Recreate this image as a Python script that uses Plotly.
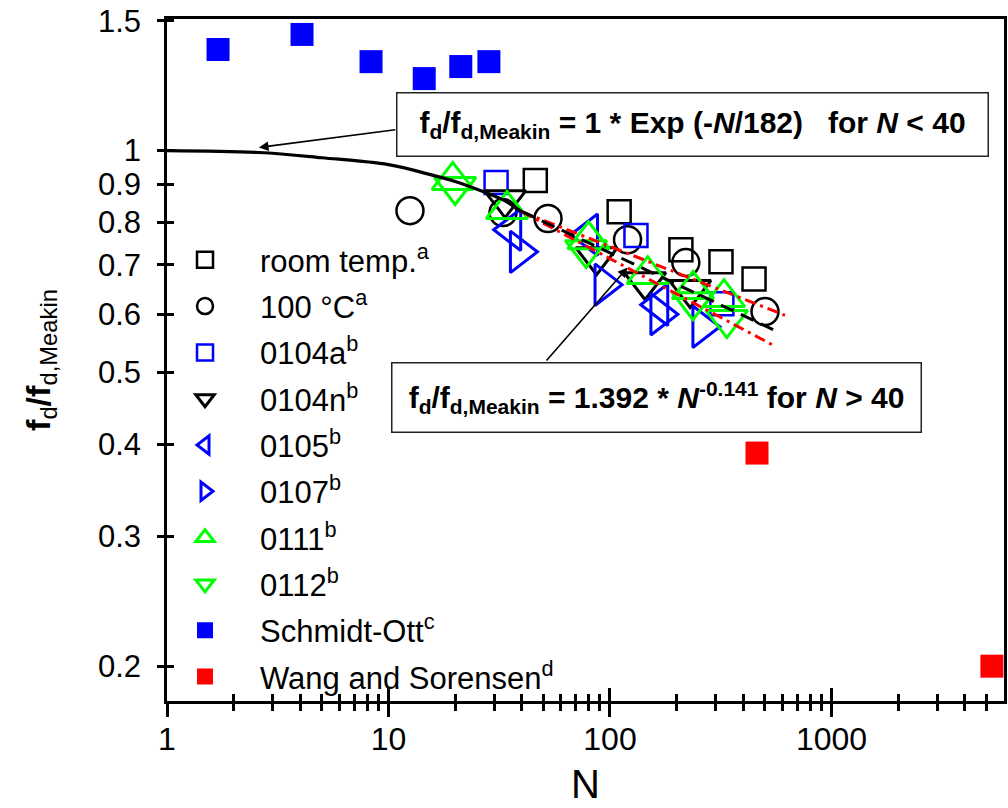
import numpy as np
import plotly.graph_objects as go

# ---------------- data ----------------
room_N = [46, 110, 209, 317, 447]
room_v = [0.911, 0.826, 0.734, 0.707, 0.670]

c100_N = [12.5, 32.9, 52.5, 120, 220, 501]
c100_v = [0.829, 0.824, 0.809, 0.757, 0.705, 0.605]

a0104_N = [30.6, 131, 320]
a0104_v = [0.905, 0.767, 0.620]

n0104_N = [33.6, 87, 144, 230]
n0104_v = [0.858, 0.718, 0.664, 0.648]

s0105_N = [36, 80, 166]
s0105_v = [0.781, 0.769, 0.618]

s0107_N = [39, 94, 168, 260]
s0107_v = [0.729, 0.658, 0.600, 0.577]

s0111_N = [19.5, 34.3, 80, 148, 237, 327]
s0111_v = [0.911, 0.832, 0.757, 0.679, 0.648, 0.632]

s0112_N = [20, 78, 237, 337]
s0112_v = [0.894, 0.734, 0.624, 0.590]

schmidt_N = [1.70, 4.07, 8.34, 14.5, 21.2, 28.4]
schmidt_v = [1.371, 1.437, 1.32, 1.252, 1.30, 1.32]

wang_N = [461, 5300]
wang_v = [0.389, 0.200]

# fitted curves
fitexp_N = [1, 2.6, 5, 10, 15, 20, 26.7, 32.8, 40]
fitexp_v = [1.0, 0.994, 0.978, 0.957, 0.93, 0.908, 0.880, 0.858, 0.826]
fitpow_N = [40, 545]
fitpow_v = [0.827, 0.572]
ci_hi_N = [40, 617]
ci_hi_v = [0.826, 0.598]
ci_lo_N = [40, 556]
ci_lo_v = [0.826, 0.543]

# axes
x_tickvals = [1, 10, 100, 1000]
x_ticktext = ["1", "10", "100", "1000"]
x_minor = [2, 3, 4, 5, 6, 7, 8, 9, 20, 30, 40, 50, 60, 70, 80, 90,
           200, 300, 400, 500, 600, 700, 800, 900, 2000, 3000, 4000, 5000]
y_tickvals = [0.2, 0.3, 0.4, 0.5, 0.6, 0.7, 0.8, 0.9, 1, 1.5]
y_ticktext = ["0.2", "0.3", "0.4", "0.5", "0.6", "0.7", "0.8", "0.9", "1", "1.5"]
x_range = [0, np.log10(6010)]
y_range = [np.log10(0.1794), np.log10(1.508)]
x_title = "N"
y_title = "<b>f</b><sub>d</sub><b>/f</b><sub>d,Meakin</sub>"

# annotation text / arrows
box1_text = ("<b>f<sub>d</sub>/f<sub>d,Meakin</sub> = 1 * Exp (-<i>N</i>/182)"
             "\u00a0\u00a0\u00a0for <i>N</i> &lt; 40</b>")
box2_text = ("<b>f<sub>d</sub>/f<sub>d,Meakin</sub> = 1.392 * <i>N</i>"
             "<sup>-0.141</sup> for <i>N</i> &gt; 40</b>")
arrow1_tip = (2.6, 1.01)
arrow1_tail = (10.9, 1.068)
arrow2_tip = (120, 0.694)
arrow2_tail = (51, 0.517)

FONT = "Liberation Sans, Arial, sans-serif"
BLUE = "#0000FF"
GREEN = "#00FF00"
RED = "#FF0000"

fig = go.Figure()

def add_pts(name, xs, ys, symbol, color, size, lw=2.5, filled=False,
            xaxis="x", yaxis="y"):
    marker = dict(symbol=symbol, size=size, color=color,
                  line=dict(color=color, width=(0 if filled else lw)))
    fig.add_trace(go.Scatter(x=xs, y=ys, mode="markers", name=name,
                             legendgroup=name, marker=marker,
                             xaxis=xaxis, yaxis=yaxis, hoverinfo="x+y"))

add_pts("room temp.<sup>a</sup>", room_N, room_v, "square-open", "black", 23)
add_pts("100 \u00b0C<sup>a</sup>", c100_N, c100_v, "circle-open", "black", 27)
add_pts("0104a<sup>b</sup>", a0104_N, a0104_v, "square-open", BLUE, 23)
add_pts("0104n<sup>b</sup>", n0104_N, n0104_v, "triangle-down-open", "black", 36, 3)
add_pts("0105<sup>b</sup>", s0105_N, s0105_v, "triangle-left-open", BLUE, 36, 3)
add_pts("0107<sup>b</sup>", s0107_N, s0107_v, "triangle-right-open", BLUE, 36, 3)
add_pts("0111<sup>b</sup>", s0111_N, s0111_v, "triangle-up-open", GREEN, 36, 3)
add_pts("0112<sup>b</sup>", s0112_N, s0112_v, "triangle-down-open", GREEN, 36, 3)
add_pts("Schmidt-Ott<sup>c</sup>", schmidt_N, schmidt_v, "square", BLUE, 23, filled=True)
add_pts("Wang and Sorensen<sup>d</sup>", wang_N, wang_v, "square", RED, 23,
        filled=True, xaxis="x2", yaxis="y2")

# fit lines on top of markers
fig.add_trace(go.Scatter(x=ci_hi_N, y=ci_hi_v, mode="lines", showlegend=False,
                         line=dict(color=RED, width=3, dash="11px,5px,3px,5px")))
fig.add_trace(go.Scatter(x=ci_lo_N, y=ci_lo_v, mode="lines", showlegend=False,
                         line=dict(color=RED, width=3, dash="11px,5px,3px,5px")))
fig.add_trace(go.Scatter(x=fitpow_N, y=fitpow_v, mode="lines", showlegend=False,
                         line=dict(color="black", width=3, dash="14px,8px")))
fig.add_trace(go.Scatter(x=fitexp_N, y=fitexp_v, mode="lines", showlegend=False,
                         line=dict(color="black", width=3.2, shape="spline")))

axis_common = dict(type="log", showgrid=False, zeroline=False,
                   tickcolor="black", tickwidth=2.5)

fig.update_layout(
    width=1008, height=808,
    margin=dict(l=167, r=4, t=19, b=107, autoexpand=False),
    paper_bgcolor="white", plot_bgcolor="white",
    font=dict(family=FONT, color="black", size=31),
    xaxis=dict(**axis_common, range=x_range, showline=True, linewidth=2.5,
               linecolor="black", mirror=True, ticks="outside", ticklen=13,
               tickmode="array", tickvals=x_tickvals, ticktext=x_ticktext,
               tickfont=dict(size=32, family=FONT), ticklabelstandoff=-5,
               minor=dict(ticks="outside", ticklen=7, tickwidth=2.5,
                          tickcolor="black", tickmode="array",
                          tickvals=x_minor, showgrid=False)),
    yaxis=dict(**axis_common, range=y_range, showline=True, linewidth=2.5,
               linecolor="black", mirror=True, ticks="outside", ticklen=7,
               tickmode="array", tickvals=y_tickvals, ticktext=y_ticktext,
               tickfont=dict(size=31, family=FONT), ticklabelstandoff=10,
               title=dict(text=y_title, font=dict(size=34, family=FONT),
                          standoff=38)),
    xaxis2=dict(**axis_common, range=x_range, overlaying="x", anchor="y",
                side="bottom", showline=False, ticks="inside", ticklen=13,
                tickmode="array", tickvals=x_tickvals, showticklabels=False,
                minor=dict(ticks="inside", ticklen=7, tickwidth=2.5,
                           tickcolor="black", tickmode="array",
                           tickvals=x_minor, showgrid=False)),
    yaxis2=dict(**axis_common, range=y_range, overlaying="y", anchor="x",
                side="left", showline=False, ticks="inside", ticklen=7,
                tickmode="array", tickvals=y_tickvals, showticklabels=False),
    legend=dict(x=-0.0203, y=0.686, xanchor="left", yanchor="top",
                bgcolor="rgba(0,0,0,0)", font=dict(size=31, family=FONT),
                itemwidth=100, tracegroupgap=3, traceorder="grouped"),
    showlegend=True,
)

ann = []
# arrows (tail -> tip), in log units for log axes
for tip, tail in [(arrow1_tip, arrow1_tail), (arrow2_tip, arrow2_tail)]:
    ann.append(dict(x=np.log10(tip[0]), y=np.log10(tip[1]), xref="x", yref="y",
                    ax=np.log10(tail[0]), ay=np.log10(tail[1]),
                    axref="x", ayref="y", text="", showarrow=True,
                    arrowhead=2, arrowsize=1.2, arrowwidth=1.6,
                    arrowcolor="black", standoff=0, startstandoff=0))
ann.append(dict(x=0.6284, y=0.8446, xref="paper", yref="paper",
                xanchor="center", yanchor="middle", text=box1_text,
                showarrow=False, font=dict(size=30, family=FONT, color="black"),
                bgcolor="white", bordercolor="#222222", borderwidth=1.5,
                borderpad=1, width=588, height=60, align="center"))
ann.append(dict(x=0.5854, y=0.4457, xref="paper", yref="paper",
                xanchor="center", yanchor="middle", text=box2_text,
                showarrow=False, font=dict(size=30, family=FONT, color="black"),
                bgcolor="white", bordercolor="#222222", borderwidth=1.5,
                borderpad=1, width=526, height=66, align="center"))
# x-axis title
ann.append(dict(x=0.5, y=-0.1217, xref="paper", yref="paper",
                xanchor="center", yanchor="middle", text=x_title,
                showarrow=False, font=dict(size=40, family=FONT, color="black")))
fig.update_layout(annotations=ann)

fig.write_html("out.html")
